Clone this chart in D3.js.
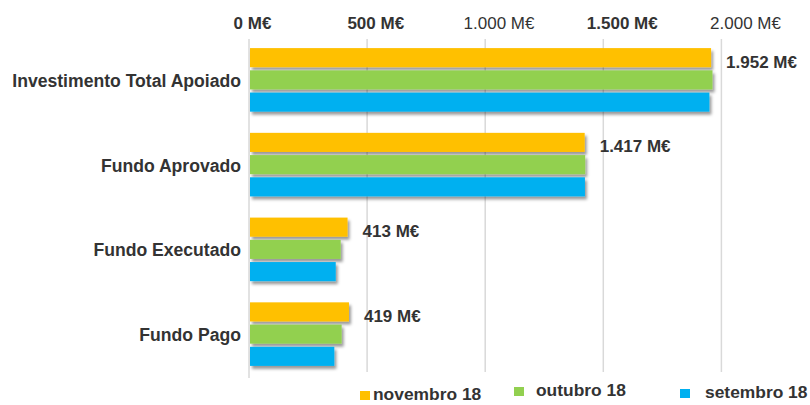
<!DOCTYPE html>
<html><head><meta charset="utf-8">
<script src="https://cdn.jsdelivr.net/npm/d3@7"></script>
<style>
html,body{margin:0;padding:0;background:#fff;}
svg{display:block;font-family:"Liberation Sans",Arial,sans-serif;}
</style></head>
<body>
<svg id="chart" width="810" height="405"></svg>
<script>
const categories = ["Investimento Total Apoiado","Fundo Aprovado","Fundo Executado","Fundo Pago"];
const seriesNames = ["novembro 18","outubro 18","setembro 18"];
const novembro = [1952, 1417, 413, 419];
const outubro  = [1958, 1419, 384, 388];
const setembro = [1945, 1418, 363, 357];
const valueLabels = ["1.952 M€","1.417 M€","413 M€","419 M€"];
const tickValues = [0, 500, 1000, 1500, 2000];
const tickLabels = ["0 M€","500 M€","1.000 M€","1.500 M€","2.000 M€"];
const colors = ["#FFC000","#92D050","#00B0F0"];

const seriesData = [novembro, outubro, setembro];
const svg = d3.select("#chart");

const defs = svg.append("defs");
const f = defs.append("filter").attr("id","sh").attr("x","-5%").attr("y","-30%").attr("width","115%").attr("height","190%");
f.append("feDropShadow").attr("dx",2).attr("dy",3).attr("stdDeviation",1.8)
  .attr("flood-color","#000").attr("flood-opacity",0.4);

const x = d3.scaleLinear().domain([0,2000]).range([250, 722.4]);
const xLab = d3.scaleLinear().domain([0,2000]).range([252, 745]);
const y = d3.scaleBand().domain(categories).range([37.5, 376.5]).paddingInner(0.25).paddingOuter(0.125);
const ys = d3.scaleBand().domain(seriesNames).range([0, y.bandwidth()]).paddingInner(0.14);

// gridlines
svg.append("g").selectAll("line").data(tickValues).join("line")
  .attr("x1", d => x(d) - 1).attr("x2", d => x(d) - 1)
  .attr("y1", 39).attr("y2", 378)
  .attr("stroke", "#d9d9d9").attr("stroke-width", 1.5);

// top axis labels
const ax = d3.axisTop(xLab).tickValues(tickValues).tickFormat((d,i) => tickLabels[i]).tickSize(0).tickPadding(0);
const axG = svg.append("g").attr("transform","translate(0,29)").call(ax);
axG.select(".domain").remove();
axG.selectAll("text").attr("font-size", 17).attr("fill", "#333")
  .attr("font-family", '"Liberation Sans",Arial,sans-serif')
  .attr("font-weight", (d,i) => (i === 2 || i === 4) ? "normal" : "bold")
  .attr("dy", 0);

// bars
const groups = svg.append("g").selectAll("g").data(categories).join("g")
  .attr("transform", c => `translate(0,${y(c)})`);
seriesNames.forEach((s, si) => {
  groups.append("rect")
    .attr("x", x(0))
    .attr("y", ys(s))
    .attr("width", (c, ci) => x(seriesData[si][ci]) - x(0))
    .attr("height", ys.bandwidth())
    .attr("fill", colors[si])
    .attr("filter", "url(#sh)");
});

// value labels
svg.append("g").selectAll("text").data(categories).join("text")
  .attr("x", (c,i) => x(novembro[i]) + 15)
  .attr("y", c => y(c) + ys(seriesNames[0]) + ys.bandwidth()/2 + 10)
  .attr("font-size", 17).attr("font-weight", "bold").attr("fill", "#333")
  .text((c,i) => valueLabels[i]);

// category labels
svg.append("g").selectAll("text").data(categories).join("text")
  .attr("x", 241)
  .attr("y", c => y(c) + y.bandwidth()/2 + 7)
  .attr("text-anchor", "end")
  .attr("font-size", 17.6).attr("font-weight", "bold").attr("fill", "#333")
  .text(c => c);

// legend
svg.append("rect").attr("x", 328).attr("y", 372).attr("width", 482).attr("height", 33).attr("fill", "#fff");
const legX = [360, 514, 680];
const legY = [400, 396, 398];
const lg = svg.append("g").selectAll("g").data(seriesNames).join("g");
lg.append("rect").attr("x", (d,i) => legX[i]).attr("y", (d,i) => legY[i] - 9)
  .attr("width", 10).attr("height", 9).attr("fill", (d,i) => colors[i]);
lg.append("text").attr("x", (d,i) => legX[i] + (i===2 ? 25 : 13) + (i===1 ? 9 : 0)).attr("y", (d,i) => legY[i])
  .attr("font-size", 17.4).attr("font-weight", "bold").attr("fill", "#333")
  .text(d => d);
</script>
</body></html>
